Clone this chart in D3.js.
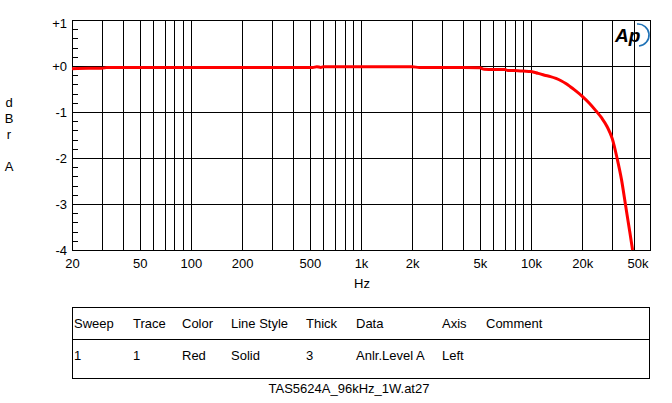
<!DOCTYPE html>
<html><head><meta charset="utf-8">
<script src="https://cdn.jsdelivr.net/npm/d3@7"></script>
<style>
body{margin:0;background:#fff}
svg{display:block}
text{font-family:Arial,"Liberation Sans",sans-serif;font-size:13px;fill:#000}
</style>
</head><body><svg width="672" height="403"></svg>
<script>
// ---- data ----
const freqs  = [20, 25, 30, 32, 50, 100, 200, 400, 520, 550, 580, 600, 1000, 2000, 2200, 3000, 4000, 5000, 5300, 6000, 7000, 7300, 8000, 9000, 10000, 11000, 12000, 13000, 14000, 15000, 16000, 17000, 18000, 20000, 22000, 24000, 26000, 28000, 30000, 32000, 34000, 36000, 38000, 39500];
const levels = [-0.06, -0.05, -0.05, -0.033, -0.033, -0.033, -0.033, -0.033, -0.033, -0.015, -0.03, -0.015, -0.015, -0.015, -0.033, -0.033, -0.033, -0.04, -0.07, -0.075, -0.075, -0.1, -0.1, -0.11, -0.12, -0.16, -0.2, -0.23, -0.27, -0.32, -0.38, -0.45, -0.52, -0.66, -0.81, -0.97, -1.13, -1.32, -1.58, -2.0, -2.47, -3.05, -3.6, -4.0];
const xTickValues = [20, 50, 100, 200, 500, 1000, 2000, 5000, 10000, 20000, 50000];
const xTickLabels = ["20", "50", "100", "200", "500", "1k", "2k", "5k", "10k", "20k", "50k"];
const yTickValues = [1, 0, -1, -2, -3, -4];
const yTickLabels = ["+1", "+0", "-1", "-2", "-3", "-4"];
const yTitleLetters = ["d", "B", "r", "", "A"];
const xTitle = "Hz";
const tableHeaders = ["Sweep", "Trace", "Color", "Line Style", "Thick", "Data", "Axis", "Comment"];
const tableRow = ["1", "1", "Red", "Solid", "3", "Anlr.Level A", "Left", ""];
const fileName = "TAS5624A_96kHz_1W.at27";

// ---- layout ----
const svg = d3.select("svg");
const L = 72, R = 650, T = 20, B = 250;
const x = d3.scaleLog().domain([20, 50000]).range([L, R]);
const y = d3.scaleLinear().domain([-4, 1]).range([B, T]);
const px = v => Math.round(x(v)) + 0.5;
const py = v => Math.round(y(v)) + 0.5;

// vertical grid
const vgrid = [];
[10, 100, 1000, 10000].forEach(d => { for (let m = 1; m <= 9; m++) { const f = m * d; if (f > 20 && f < 50000) vgrid.push(f); } });
svg.append("g").selectAll("line").data(vgrid).join("line")
  .attr("x1", d => px(d)).attr("x2", d => px(d))
  .attr("y1", T).attr("y2", B + 1)
  .attr("stroke", "#000").attr("stroke-width", 1);

// horizontal grid
svg.append("g").selectAll("line").data(yTickValues.filter(v => v > -4 && v < 1)).join("line")
  .attr("x1", L).attr("x2", R + 1)
  .attr("y1", d => py(d)).attr("y2", d => py(d))
  .attr("stroke", "#000").attr("stroke-width", 1);

// minor ticks on left
const minor = d3.range(-4, 1.0001, 0.2).map(v => Math.round(v * 10) / 10).filter(v => Math.abs(v - Math.round(v)) > 0.01);
svg.append("g").selectAll("line").data(minor).join("line")
  .attr("x1", L).attr("x2", L + 6)
  .attr("y1", d => py(d)).attr("y2", d => py(d))
  .attr("stroke", "#000");

// frame
svg.append("rect").attr("x", L + 0.5).attr("y", T + 0.5).attr("width", R - L).attr("height", B - T)
  .attr("fill", "none").attr("stroke", "#000");

// curve
const line = d3.line().x((d, i) => x(freqs[i])).y(d => y(d)).curve(d3.curveMonotoneX);
svg.append("path").datum(levels).attr("d", line)
  .attr("fill", "none").attr("stroke", "#ff0000").attr("stroke-width", 3).attr("stroke-linejoin", "round");

// x axis labels
const xAxis = d3.axisBottom(x).tickValues(xTickValues).tickSize(0).tickPadding(0)
  .tickFormat((d, i) => xTickLabels[i]);
const gx = svg.append("g").attr("transform", `translate(0,${B})`).call(xAxis);
gx.select(".domain").remove();
gx.selectAll("text").attr("y", 18).attr("dy", 0).style("font-size", "13px").style("font-family", "Arial,'Liberation Sans',sans-serif").attr("fill", "#000");
gx.selectAll(".tick").filter(d => d === 50000).select("text").attr("text-anchor", "end").attr("x", -2);

// y axis labels
const yAxis = d3.axisLeft(y).tickValues(yTickValues).tickSize(0).tickPadding(0)
  .tickFormat((d, i) => yTickLabels[i]);
const gy = svg.append("g").attr("transform", `translate(${L - 5},0)`).call(yAxis);
gy.select(".domain").remove();
gy.selectAll("text").attr("dy", "0.36em").style("font-size", "13px").style("font-family", "Arial,'Liberation Sans',sans-serif").attr("fill", "#000");
gy.selectAll(".tick").filter(d => d === 1).select("text").attr("dy", "0.58em");

// y title
svg.append("g").selectAll("text").data(yTitleLetters).join("text")
  .attr("x", 9).attr("y", (d, i) => 107 + i * 16).attr("text-anchor", "middle").text(d => d);

// x title
svg.append("text").attr("x", (L + R) / 2 + 1).attr("y", 288).attr("text-anchor", "middle").text(xTitle);

// AP logo
const logo = svg.append("g").attr("fill", "none");
logo.append("text").attr("x", 615).attr("y", 42).style("font-style", "italic").style("font-weight", "bold").style("font-size", "19px")
  .attr("fill", "#1f72b6").text("Ap");
logo.append("path").attr("d", "M637,24 A11,11 0 0,1 639,46").attr("stroke", "#1f72b6").attr("stroke-width", 1.6);

// table
const tL = 72, tR = 649, tT = 307, tM = 339, tB = 378;
svg.append("rect").attr("x", tL + 0.5).attr("y", tT + 0.5).attr("width", tR - tL).attr("height", tB - tT)
  .attr("fill", "none").attr("stroke", "#000");
svg.append("line").attr("x1", tL).attr("x2", tR + 1).attr("y1", tM + 0.5).attr("y2", tM + 0.5).attr("stroke", "#000");
const colX = [74, 133, 182, 231, 306, 356, 442, 486];
svg.append("g").selectAll("text").data(tableHeaders).join("text")
  .attr("x", (d, i) => colX[i]).attr("y", 328).text(d => d);
svg.append("g").selectAll("text").data(tableRow).join("text")
  .attr("x", (d, i) => colX[i]).attr("y", 360).text(d => d);

svg.append("text").attr("x", 349).attr("y", 393).attr("text-anchor", "middle").text(fileName);
</script>
</body></html>
